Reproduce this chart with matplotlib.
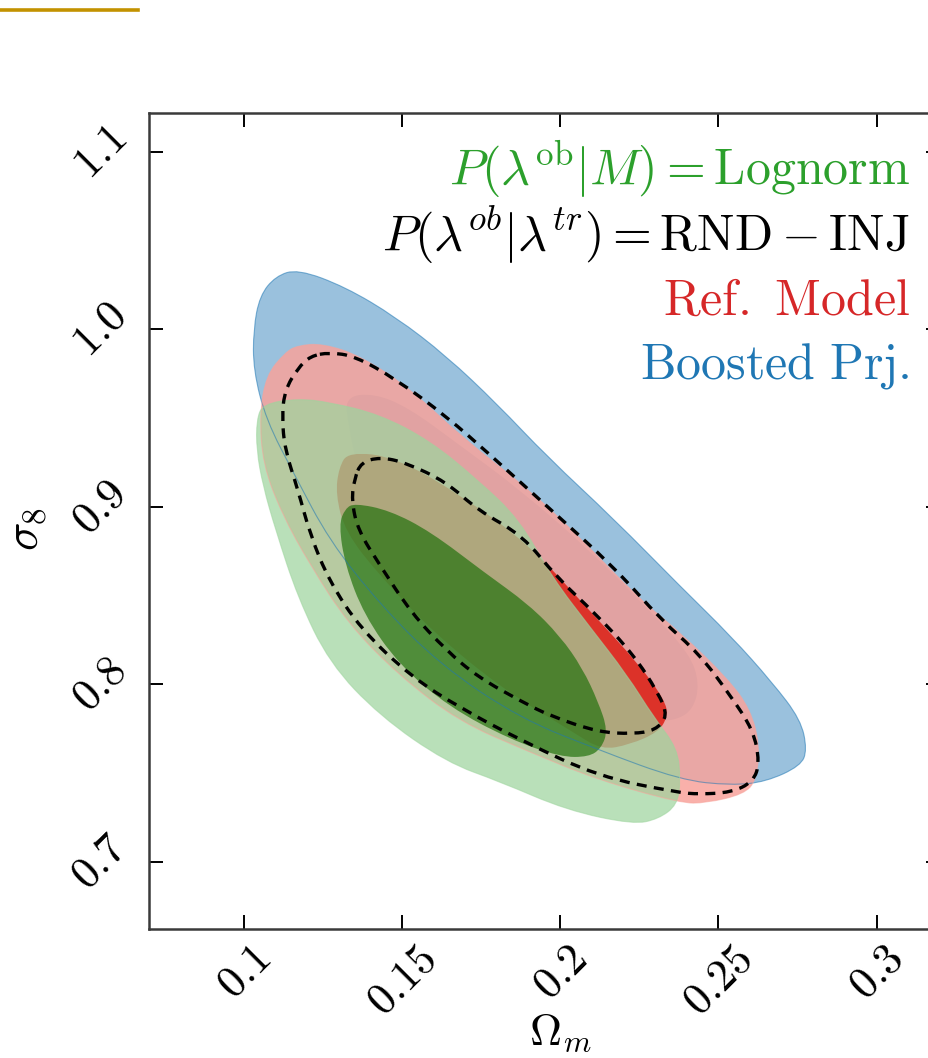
import numpy as np
import matplotlib
matplotlib.use("Agg")
import matplotlib.pyplot as plt
from matplotlib.path import Path
from matplotlib.patches import PathPatch
from matplotlib.lines import Line2D

plt.rcParams['mathtext.fontset'] = 'cm'

# tick positions / labels
x_ticks = [0.1, 0.15, 0.2, 0.25, 0.3]
x_tick_labels = ['0.1', '0.15', '0.2', '0.25', '0.3']
y_ticks = [0.7, 0.8, 0.9, 1.0, 1.1]
y_tick_labels = ['0.7', '0.8', '0.9', '1.0', '1.1']

# contour outlines (Omega_m, sigma_8)
boosted_95_x = [0.117, 0.132, 0.148, 0.164, 0.180, 0.196, 0.217, 0.238, 0.254, 0.267, 0.276, 0.278, 0.276, 0.265,
                0.254, 0.238, 0.212, 0.187, 0.162, 0.143, 0.127, 0.116, 0.107, 0.103, 0.103, 0.105, 0.110]
boosted_95_y = [1.034, 1.024, 1.007, 0.985, 0.958, 0.928, 0.893, 0.855, 0.827, 0.801, 0.780, 0.763, 0.754, 0.745,
                0.743, 0.746, 0.763, 0.781, 0.811, 0.845, 0.881, 0.918, 0.949, 0.977, 1.000, 1.019, 1.030]
boosted_68_x = [0.132, 0.141, 0.152, 0.168, 0.187, 0.209, 0.228, 0.241, 0.244, 0.242, 0.237, 0.230, 0.219, 0.200,
                0.178, 0.159, 0.144, 0.136, 0.133]
boosted_68_y = [0.962, 0.964, 0.956, 0.935, 0.910, 0.876, 0.842, 0.817, 0.800, 0.786, 0.780, 0.779, 0.785, 0.803,
                0.828, 0.856, 0.887, 0.921, 0.946]

ref_95_x = [0.125, 0.137, 0.153, 0.169, 0.190, 0.206, 0.225, 0.238, 0.253, 0.260, 0.263, 0.262, 0.258, 0.246,
            0.238, 0.212, 0.190, 0.168, 0.149, 0.133, 0.121, 0.112, 0.106, 0.105, 0.107, 0.113, 0.117]
ref_95_y = [0.992, 0.985, 0.966, 0.939, 0.910, 0.883, 0.848, 0.829, 0.803, 0.786, 0.766, 0.746, 0.738, 0.733,
            0.733, 0.746, 0.762, 0.779, 0.805, 0.834, 0.867, 0.896, 0.924, 0.952, 0.974, 0.987, 0.991]
ref_68_x = [0.133, 0.148, 0.169, 0.190, 0.209, 0.225, 0.233, 0.234, 0.231, 0.222, 0.213, 0.204, 0.182, 0.160,
            0.143, 0.132, 0.129, 0.130]
ref_68_y = [0.931, 0.928, 0.906, 0.879, 0.842, 0.811, 0.791, 0.782, 0.773, 0.766, 0.763, 0.773, 0.797, 0.829,
            0.861, 0.886, 0.907, 0.922]

logn_95_x = [0.106, 0.117, 0.127, 0.143, 0.159, 0.174, 0.187, 0.1975, 0.2095, 0.221, 0.2297, 0.237, 0.238, 0.237,
             0.231, 0.223, 0.202, 0.181, 0.164, 0.143, 0.127, 0.117, 0.110, 0.106, 0.104, 0.104]
logn_95_y = [0.958, 0.961, 0.959, 0.952, 0.937, 0.915, 0.893, 0.860, 0.832, 0.8055, 0.781, 0.764, 0.746, 0.732,
             0.724, 0.721, 0.729, 0.745, 0.756, 0.782, 0.812, 0.849, 0.887, 0.912, 0.932, 0.949]
logn_68_x = [0.135, 0.146, 0.159, 0.176, 0.190, 0.200, 0.207, 0.212, 0.215, 0.213, 0.209, 0.200, 0.184, 0.165,
             0.149, 0.138, 0.132, 0.130, 0.132]
logn_68_y = [0.902, 0.898, 0.886, 0.863, 0.845, 0.827, 0.809, 0.790, 0.774, 0.764, 0.759, 0.759, 0.769, 0.787,
             0.811, 0.839, 0.867, 0.890, 0.899]

rndinj_95_x = [0.127, 0.135, 0.148, 0.164, 0.178, 0.196, 0.217, 0.232, 0.244, 0.254, 0.261, 0.263, 0.261, 0.254,
               0.244, 0.237, 0.212, 0.188, 0.169, 0.153, 0.137, 0.127, 0.121, 0.117, 0.113, 0.112, 0.113, 0.117, 0.121]
rndinj_95_y = [0.987, 0.985, 0.972, 0.951, 0.929, 0.900, 0.866, 0.836, 0.817, 0.793, 0.774, 0.756, 0.745, 0.739,
               0.738, 0.739, 0.748, 0.768, 0.786, 0.804, 0.831, 0.858, 0.884, 0.910, 0.932, 0.951, 0.966, 0.978, 0.985]
rndinj_68_x = [0.137, 0.143, 0.151, 0.164, 0.174, 0.188, 0.199, 0.211, 0.223, 0.231, 0.234, 0.230, 0.223, 0.212,
               0.197, 0.188, 0.174, 0.164, 0.153, 0.143, 0.136, 0.134, 0.135]
rndinj_68_y = [0.925, 0.928, 0.925, 0.914, 0.898, 0.884, 0.860, 0.840, 0.817, 0.795, 0.782, 0.774, 0.772, 0.773,
               0.782, 0.790, 0.804, 0.819, 0.840, 0.867, 0.887, 0.904, 0.916]


def smooth_path(xs, ys):
    # closed quadratic bezier through midpoints of the read outline
    pts = np.column_stack([xs, ys])
    mids = (pts + np.roll(pts, -1, axis=0)) / 2
    verts = [mids[-1]]
    codes = [Path.MOVETO]
    for p, m in zip(pts, mids):
        verts += [p, m]
        codes += [Path.CURVE3, Path.CURVE3]
    return Path(verts, codes)


fig = plt.figure(figsize=(9.29, 10.58), dpi=100)
ax = fig.add_axes([0.1604, 0.1219, 0.8514, 0.7713])

# (x, y, colour, alpha, draw outline)
fills = [
    (boosted_95_x, boosted_95_y, '#1f77b4', 0.45, True),
    (boosted_68_x, boosted_68_y, '#1f77b4', 0.45, False),
    (ref_95_x, ref_95_y, '#f8a39b', 0.85, True),
    (ref_68_x, ref_68_y, '#dc1e14', 0.85, False),
    (logn_95_x, logn_95_y, '#9ed59e', 0.72, True),
    (logn_68_x, logn_68_y, '#1f700a', 0.68, False),
]
for xs, ys, c, a, _ in fills:
    ax.add_patch(PathPatch(smooth_path(xs, ys), facecolor=c, edgecolor='none', alpha=a, zorder=2))
for xs, ys, c, a, edge in fills:
    if edge:
        ax.add_patch(PathPatch(smooth_path(xs, ys), facecolor='none', edgecolor=c, lw=0.8, alpha=0.55, zorder=3))

for xs, ys in [(rndinj_95_x, rndinj_95_y), (rndinj_68_x, rndinj_68_y)]:
    ax.add_patch(PathPatch(smooth_path(xs, ys), facecolor='none', edgecolor='black',
                           lw=2.4, linestyle=(0, (3.0, 2.2)), zorder=4))

ax.set_xlim(0.07, 0.32)
ax.set_ylim(0.662, 1.122)
ax.set_xticks(x_ticks)
ax.set_xticklabels(['$' + t + '$' for t in x_tick_labels], rotation=45, fontsize=32)
ax.set_yticks(y_ticks)
ax.set_yticklabels(['$' + t + '$' for t in y_tick_labels], rotation=45, fontsize=32, va='center')
ax.tick_params(direction='in', length=10, width=1.4, top=True, right=True, pad=6)
ax.tick_params(axis='y', pad=10)
for s in ax.spines.values():
    s.set_linewidth(1.8)
    s.set_color('#3a3a3a')

ax.set_xlabel(r'$\Omega_m$', fontsize=32)
ax.set_ylabel(r'$\sigma_8$', fontsize=34)
ax.xaxis.set_label_coords(0.52, -0.1)
ax.yaxis.set_label_coords(-0.128, 0.49)

labels = [
    (r'$P(\lambda^{\rm ob}|M) = {\rm Lognorm}$', '#2ca02c', 0.912),
    (r'$P(\lambda^{ob}|\lambda^{tr}) = \mathrm{RND} - \mathrm{INJ}$', 'black', 0.832),
    (r'$\mathrm{Ref.\ Model}$', '#d62728', 0.7525),
    (r'$\mathrm{Boosted\ Prj.}$', '#1f77b4', 0.675),
]
for txt, c, yy in labels:
    ax.text(0.962, yy, txt, color=c, fontsize=36, ha='right', va='baseline', transform=ax.transAxes, zorder=5)

# gold rule from the slide
fig.add_artist(Line2D([0.0, 0.1485], [0.9905, 0.9905], color='#c39200', lw=2.6, transform=fig.transFigure))

fig.savefig('out.png', dpi=100)
